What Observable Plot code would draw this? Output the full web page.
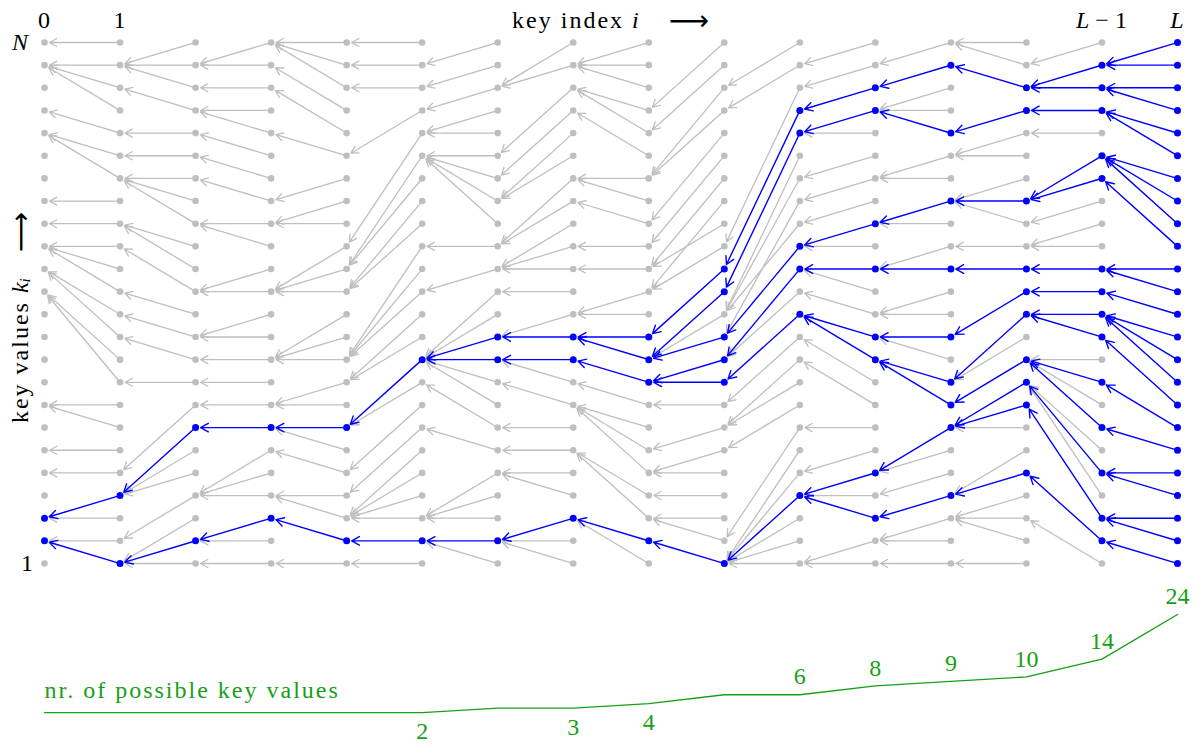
<!DOCTYPE html>
<html>
<head>
<meta charset="utf-8">
<script src="https://cdn.jsdelivr.net/npm/d3@7"></script>
<script src="https://cdn.jsdelivr.net/npm/@observablehq/plot@0.6"></script>
<style>
  body { margin: 0; background: #fff; }
  #chart { position: relative; width: 1199px; height: 744px; }
  #chart svg { position: absolute; left: 0; top: 0; overflow: visible; }
</style>
</head>
<body>
<div id="chart"></div>
<script>
// Key index runs 0..L, key values 1..N
const L = 15;
const N = 24;

// For every column i (1..L): the key value in column i-1 that key value k (k = 1..N) points back to
const prev1  = [2,2,3,3,5,6,8,8,13,13,14,14,15,15,15,16,17,20,20,21,23,23,23,24];
const prev2  = [1,1,1,2,4,4,4,5,9,11,12,13,15,16,16,18,18,18,19,20,22,23,23,23];
const prev3  = [1,2,2,4,4,4,7,8,9,10,11,11,13,13,16,16,18,19,20,21,21,22,23,23];
const prev4  = [1,3,4,4,6,7,7,8,8,10,10,10,13,13,13,16,16,17,20,22,23,24,24,24];
const prev5  = [1,2,3,3,3,3,4,5,7,7,9,9,10,10,10,13,13,14,14,15,19,22,23,24];
const prev6  = [2,2,3,3,3,7,9,10,10,10,10,10,10,13,15,19,19,19,19,20,20,21,22,23];
const prev7  = [2,2,2,5,5,6,7,9,10,10,11,11,13,14,14,14,15,15,17,17,18,19,22,22];
const prev8  = [3,3,6,6,8,8,8,9,10,11,11,12,12,14,15,17,18,18,21,22,22,23,23,23];
const prev9  = [2,3,3,4,5,5,6,8,9,9,10,10,10,11,13,14,13,14,15,16,18,18,20,21];
const prev10 = [1,1,1,1,1,1,2,6,7,7,8,9,10,10,11,12,11,12,12,13,14,15,21,22];
const prev11 = [1,1,4,4,4,5,7,10,11,12,12,13,14,14,15,15,16,17,18,20,20,21,22,23];
const prev12 = [1,2,2,3,4,5,5,10,10,11,11,12,12,14,14,16,16,18,18,21,21,21,22,23];
const prev13 = [1,3,3,3,4,4,7,7,7,8,9,9,11,14,15,17,17,17,19,19,20,23,24,24];
const prev14 = [3,5,8,9,9,9,10,10,10,10,12,12,13,14,15,15,16,17,17,20,21,22,22,23];
const prev15 = [2,3,3,5,5,7,9,11,12,12,12,13,14,14,18,19,19,19,21,21,22,22,23,23];

// Number of possible key values per key index
const possibleCounts = [2,2,2,2,2,2,3,3,4,6,6,8,9,10,14,24];
// Key indices whose count is written out, and whether the number sits above the line
const countLabelIndex = [5,7,8,10,11,12,13,14,15];
const countLabelAbove = [false,false,false,true,true,true,true,true,true];

const prevByColumn = [null, prev1, prev2, prev3, prev4, prev5, prev6, prev7, prev8,
                      prev9, prev10, prev11, prev12, prev13, prev14, prev15];

// Keys that survive back from the last index
const live = [];
live[L] = new Set(d3.range(1, N + 1));
for (let i = L; i >= 1; i--) {
  live[i - 1] = new Set([...live[i]].map(k => prevByColumn[i][k - 1]));
}

const nodes = [];
for (let i = 0; i <= L; i++) for (let k = 1; k <= N; k++) nodes.push({i, k, on: live[i].has(k)});
const links = [];
for (let i = 1; i <= L; i++) for (let k = 1; k <= N; k++)
  links.push({i, k, pi: i - 1, pk: prevByColumn[i][k - 1], on: live[i].has(k)});

const GRAY = "#bfbfbf", BLUE = "#0000ff", GREEN = "#16a016";
const SERIF = "'Liberation Serif', 'DejaVu Serif', serif";
const FS = 24;
const SPACING = "2px";

const arrowOpts = {x1: "i", y1: "k", x2: "pi", y2: "pk", headLength: 9.5, headAngle: 58, insetStart: 3, insetEnd: 5};

const grid = Plot.plot({
  width: 1199, height: 744,
  marginLeft: 44, marginRight: 22, marginTop: 42, marginBottom: 181,
  x: {domain: [0, L], axis: null},
  y: {domain: [1, N], axis: null},
  style: {background: "transparent", overflow: "visible"},
  marks: [
    Plot.arrow(links.filter(d => !d.on), {...arrowOpts, stroke: GRAY, strokeWidth: 1.3}),
    Plot.arrow(links.filter(d => d.on), {...arrowOpts, stroke: BLUE, strokeWidth: 1.4}),
    Plot.dot(nodes.filter(d => !d.on), {x: "i", y: "k", r: 3.3, fill: GRAY}),
    Plot.dot(nodes.filter(d => d.on), {x: "i", y: "k", r: 3.5, fill: BLUE})
  ]
});

const countData = possibleCounts.map((n, i) => ({i, n}));
const labelData = countLabelIndex.map((i, j) => ({i, n: possibleCounts[i], above: countLabelAbove[j]}));

const counts = Plot.plot({
  width: 1199, height: 744,
  marginLeft: 44, marginRight: 22, marginTop: 614, marginBottom: 23,
  x: {domain: [0, L], axis: null},
  y: {domain: [0, 24], axis: null},
  style: {background: "transparent", overflow: "visible"},
  marks: [
    Plot.line(countData, {x: "i", y: "n", stroke: GREEN, strokeWidth: 1.4}),
    Plot.text(labelData.filter(d => d.above), {x: "i", y: "n", text: d => String(d.n), dy: -18,
      fill: GREEN, fontSize: FS, fontFamily: SERIF}),
    Plot.text(labelData.filter(d => !d.above), {x: "i", y: "n", text: d => String(d.n), dy: 19,
      fill: GREEN, fontSize: FS, fontFamily: SERIF}),
    Plot.text([countData[0]], {x: "i", y: "n", text: () => "nr. of possible key values", dy: -22,
      textAnchor: "start", fill: GREEN, fontSize: FS, fontFamily: SERIF})
  ]
});

const chart = document.getElementById("chart");
chart.append(grid, counts);
d3.select(counts).selectAll("text").filter(function () { return this.textContent.length > 3; })
  .attr("letter-spacing", SPACING);

// Axis annotations of the key grid
const xs = grid.scale("x"), ys = grid.scale("y");
const svg = d3.select(grid);
const g = svg.append("g").attr("font-family", SERIF).attr("font-size", FS).attr("fill", "#000");

function label(x, y, parts, anchor = "middle") {
  const t = g.append("text").attr("x", x).attr("y", y).attr("text-anchor", anchor)
    .attr("dominant-baseline", "central");
  for (const p of parts) {
    const s = t.append("tspan").text(p.text);
    if (p.italic) s.attr("font-style", "italic");
    if (p.dx) s.attr("dx", p.dx);
    if (p.font) s.attr("font-family", p.font);
    if (p.size) s.attr("font-size", p.size);
    if (p.dy) s.attr("dy", p.dy);
    if (p.spaced) s.attr("letter-spacing", SPACING);
  }
  return t;
}

const topY = ys.apply(N) - 22;
label(xs.apply(0), topY, [{text: "0"}]);
label(xs.apply(1), topY, [{text: "1"}]);
label(xs.apply(L - 1), topY, [{text: "L", italic: true}, {text: " − 1"}]);
label(xs.apply(L), topY, [{text: "L", italic: true}]);
label(xs.apply(0) - 24, ys.apply(N), [{text: "N", italic: true}]);
label(xs.apply(0) - 17, ys.apply(1), [{text: "1"}]);

label(xs.apply(L / 2), topY, [
  {text: "key index ", spaced: true}, {text: "i", italic: true},
  {text: "⟶", dx: 30, font: "'DejaVu Sans', sans-serif", size: 28}
]);

// Rotated label along the key-value direction, read bottom to top
const yl = label(0, 0, [
  {text: "key values ", spaced: true}, {text: "k", italic: true},
  {text: "i", italic: true, size: 15, dy: 5},
  {text: "⟶", dx: 26, dy: -5, font: "'DejaVu Sans', sans-serif", size: 28}
], "start");
yl.attr("transform", `translate(${xs.apply(0) - 24},${ys.apply(7) - 4}) rotate(-90)`);
</script>
</body>
</html>
